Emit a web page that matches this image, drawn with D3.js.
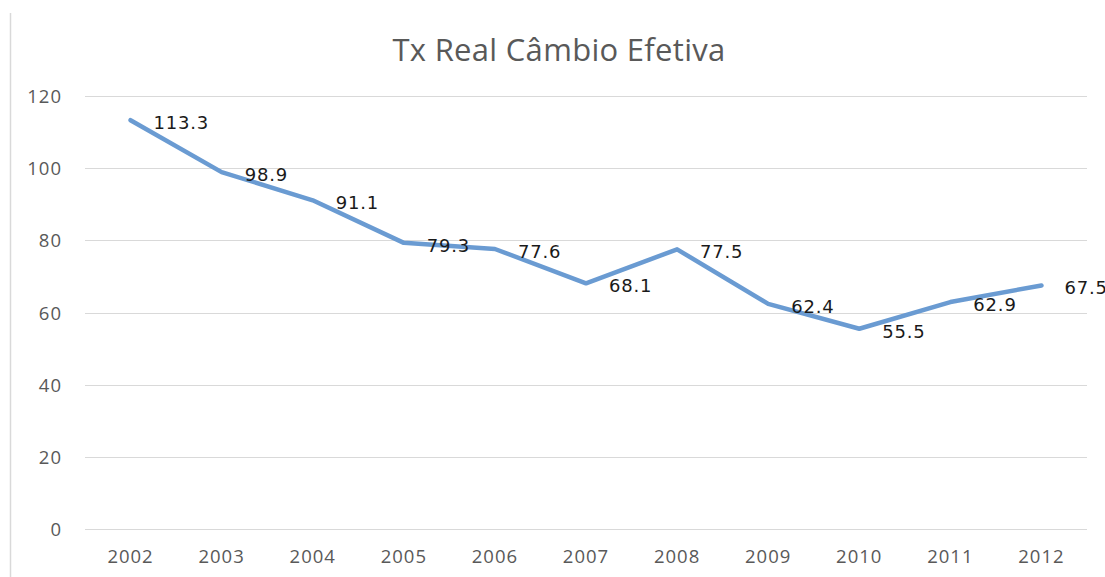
<!DOCTYPE html>
<html>
<head>
<meta charset="utf-8">
<script src="https://cdn.jsdelivr.net/npm/d3@7"></script>
<style>
  body { margin: 0; background: #fff; }
  svg { display: block; }
</style>
</head>
<body>
<script>
const width = 1105, height = 577;

// data
const years = ["2002", "2003", "2004", "2005", "2006", "2007", "2008", "2009", "2010", "2011", "2012"];
const values = [113.3, 98.9, 91.1, 79.3, 77.6, 68.1, 77.5, 62.4, 55.5, 62.9, 67.5];
const yTicks = [0, 20, 40, 60, 80, 100, 120];
const title = "Tx Real Câmbio Efetiva";

const margin = {left: 85, right: 18, top: 96, bottom: 48};

const svg = d3.select("body")
  .append("svg")
  .attr("width", width)
  .attr("height", height);

const x = d3.scaleBand()
  .domain(years)
  .range([margin.left, width - margin.right]);

const y = d3.scaleLinear()
  .domain([0, 120])
  .range([height - margin.bottom, margin.top]);

// outer chart border (only the left edge shows)
svg.append("line")
  .attr("x1", 10.5).attr("x2", 10.5)
  .attr("y1", 13).attr("y2", height)
  .attr("stroke", "#d9d9d9")
  .attr("stroke-width", 1.5);

// title
svg.append("text")
  .attr("x", 559)
  .attr("y", 61)
  .attr("text-anchor", "middle")
  .attr("font-family", "Open Sans, sans-serif")
  .attr("font-size", 31)
  .attr("letter-spacing", 0.3)
  .attr("fill", "#595959")
  .text(title);

// gridlines
svg.append("g")
  .selectAll("line")
  .data(yTicks)
  .enter()
  .append("line")
  .attr("x1", margin.left)
  .attr("x2", width - margin.right)
  .attr("y1", d => Math.round(y(d)) + 0.5)
  .attr("y2", d => Math.round(y(d)) + 0.5)
  .attr("stroke", "#d9d9d9")
  .attr("stroke-width", 1);

// y labels
svg.append("g")
  .selectAll("text")
  .data(yTicks)
  .enter()
  .append("text")
  .attr("x", 62)
  .attr("y", d => y(d) + 7)
  .attr("text-anchor", "end")
  .attr("font-family", "Open Sans, sans-serif")
  .attr("font-size", 18.5)
  .attr("letter-spacing", 1)
  .attr("fill", "#595959")
  .text(d => d);

// x labels
svg.append("g")
  .selectAll("text")
  .data(years)
  .enter()
  .append("text")
  .attr("x", d => x(d) + x.bandwidth() / 2)
  .attr("y", height - margin.bottom + 34)
  .attr("text-anchor", "middle")
  .attr("font-family", "Open Sans, sans-serif")
  .attr("font-size", 18.5)
  .attr("letter-spacing", 1)
  .attr("fill", "#595959")
  .text(d => d);

// line
const line = d3.line()
  .x((d, i) => x(years[i]) + x.bandwidth() / 2)
  .y(d => y(d));

svg.append("path")
  .datum(values)
  .attr("d", line)
  .attr("fill", "none")
  .attr("stroke", "#6a9bd2")
  .attr("stroke-width", 4.5)
  .attr("stroke-linejoin", "round")
  .attr("stroke-linecap", "round");

// data labels
svg.append("g")
  .selectAll("text")
  .data(values)
  .enter()
  .append("text")
  .attr("x", (d, i) => x(years[i]) + x.bandwidth() / 2 + 23)
  .attr("y", d => y(d) + 9)
  .attr("font-family", "DejaVu Sans, Verdana, sans-serif")
  .attr("font-size", 18)
  .attr("letter-spacing", 0.8)
  .attr("fill", "#1a1a1a")
  .text(d => d.toFixed(1));
</script>
</body>
</html>
